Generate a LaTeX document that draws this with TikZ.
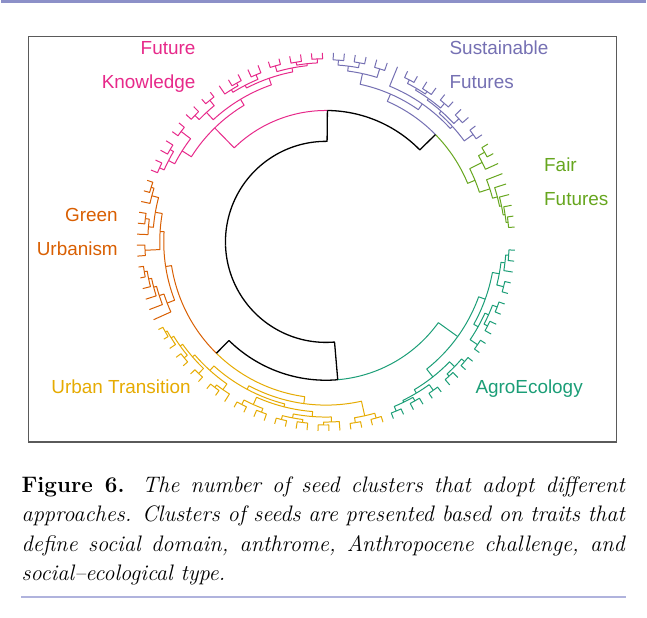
\documentclass[tikz,border=0pt]{standalone}
\usepackage{fontspec}
\newfontfamily\labelfont{Liberation Sans}
\usepackage{xcolor}

\definecolor{knowcol}{HTML}{E7298A}
\definecolor{sustcol}{HTML}{7570B3}
\definecolor{faircol}{HTML}{66A61E}
\definecolor{agrocol}{HTML}{1B9E77}
\definecolor{greencol}{HTML}{D95F02}
\definecolor{urbancol}{HTML}{E6AB02}
\definecolor{framecol}{HTML}{5A5A5A}
\definecolor{rulecol}{HTML}{8C90C8}
\definecolor{rulelight}{HTML}{B0B3DD}

\tikzset{
  br/.style={line width=1pt, line join=round},
  brknow/.style={br, draw=knowcol},
  brsust/.style={br, draw=sustcol},
  brfair/.style={br, draw=faircol},
  bragro/.style={br, draw=agrocol},
  brgreen/.style={br, draw=greencol},
  brurban/.style={br, draw=urbancol},
  brmix/.style={line width=1.3pt, line join=round, draw=black},
  clusterlabel/.style={font=\labelfont\fontsize{19}{34}\selectfont, inner sep=0pt},
}

% leaves #1..#2 : angle, tip radius and colour
\newcommand\lfs[3]{%
  \foreach \i in {#1,...,#2}{%
    \pgfmathparse{4.5+3.33*(\i-1)}%
    \expandafter\xdef\csname a@\i\endcsname{\pgfmathresult}%
    \expandafter\xdef\csname r@\i\endcsname{190}%
    \expandafter\xdef\csname c@\i\endcsname{#3}}}

% join: name, child 1, child 2, radius of the join
\newcommand\jn[4]{%
  \edef\ja{\csname a@#2\endcsname}\edef\jb{\csname a@#3\endcsname}%
  \edef\jra{\csname r@#2\endcsname}\edef\jrb{\csname r@#3\endcsname}%
  \edef\jca{\csname c@#2\endcsname}\edef\jcb{\csname c@#3\endcsname}%
  \pgfmathsetmacro\jm{(\ja+\jb)/2}%
  \edef\jdo{\noexpand\draw[\jca] (\ja:\jra) -- (\ja:#4)
    arc[start angle=\ja, end angle=\jm, radius=#4];}\jdo
  \edef\jdo{\noexpand\draw[\jcb] (\jm:#4)
    arc[start angle=\jm, end angle=\jb, radius=#4] -- (\jb:\jrb);}\jdo
  \expandafter\xdef\csname a@#1\endcsname{\jm}%
  \expandafter\xdef\csname r@#1\endcsname{#4}%
  \ifx\jca\jcb\expandafter\xdef\csname c@#1\endcsname{\jca}%
  \else\expandafter\xdef\csname c@#1\endcsname{brmix}\fi}

\begin{document}
\begin{tikzpicture}[x=1pt,y=1pt]
  \fill[white] (0,0) rectangle (647,620);
  \draw[rulecol, line width=3pt] (0,618.5) -- (647,618.5);
  \draw[framecol, line width=1.3pt] (27,583) rectangle (618,176);

  \begin{scope}[shift={(326,377)}]
    \lfs{1}{9}{brfair}
    \lfs{10}{26}{brsust}
    \lfs{27}{47}{brknow}
    \lfs{48}{61}{brgreen}
    \lfs{62}{86}{brurban}
    \lfs{87}{107}{bragro}
    % fair futures
    \jn{fa}{9}{8}{183}
    \jn{fb}{fa}{7}{176}
    \jn{fc}{1}{2}{184}
    \jn{fd}{fc}{3}{182}
    \jn{fe}{fd}{4}{180}
    \jn{ff}{fe}{5}{178}
    \jn{fg}{ff}{6}{173}
    \jn{F}{fg}{fb}{162}
    % sustainable futures
    \jn{sa}{10}{11}{183}
    \jn{sb}{12}{13}{182}
    \jn{sc}{14}{15}{183}
    \jn{sd}{16}{17}{182}
    \jn{se}{18}{19}{183}
    \jn{sf}{sd}{se}{179}
    \jn{sg}{sc}{sf}{177}
    \jn{sh}{sb}{sg}{175}
    \jn{si}{sa}{sh}{172}
    \jn{sj}{si}{20}{169}
    \jn{sk}{25}{26}{183}
    \jn{sl}{23}{24}{183}
    \jn{sm}{21}{22}{182}
    \jn{sn}{sl}{sk}{178}
    \jn{so}{sm}{sn}{173}
    \jn{S}{sj}{so}{162}
    \jn{PG}{F}{S}{154}
    % future knowledge
    \jn{pa}{46}{47}{183}
    \jn{pb}{44}{45}{182}
    \jn{pc}{42}{43}{183}
    \jn{pd}{pb}{pa}{178}
    \jn{pe}{pc}{pd}{171}
    \jn{pf}{40}{41}{183}
    \jn{pg}{38}{39}{184}
    \jn{ph}{pg}{pf}{177}
    \jn{pi}{27}{28}{184}
    \jn{pj}{29}{30}{183}
    \jn{pk}{31}{32}{184}
    \jn{pl}{pi}{pj}{180}
    \jn{pm}{pl}{pk}{178}
    \jn{pn}{33}{34}{182}
    \jn{po}{35}{36}{183}
    \jn{pp}{po}{37}{180}
    \jn{pq}{pn}{pp}{177}
    \jn{pr}{pm}{pq}{174}
    \jn{ps}{pr}{ph}{167}
    \jn{P}{ps}{pe}{160}
    \jn{A}{PG}{P}{132}
    % green urbanism
    \jn{oa}{48}{49}{184}
    \jn{ob}{oa}{50}{181}
    \jn{oc}{51}{52}{183}
    \jn{od}{oc}{53}{179}
    \jn{oe}{ob}{od}{174}
    \jn{of}{54}{55}{182}
    \jn{og}{oe}{of}{167}
    \jn{oh}{56}{57}{185}
    \jn{oi}{oh}{58}{182}
    \jn{oj}{oi}{59}{179}
    \jn{ok}{oj}{60}{176}
    \jn{ol}{ok}{61}{171}
    \jn{O}{og}{ol}{163}
    % urban transition
    \jn{ya}{62}{63}{185}
    \jn{yb}{ya}{64}{183}
    \jn{yc}{65}{66}{184}
    \jn{yd}{yb}{yc}{180}
    \jn{ye}{67}{68}{184}
    \jn{yf}{yd}{ye}{177}
    \jn{yg}{69}{70}{184}
    \jn{yh}{yg}{71}{181}
    \jn{yi}{yf}{yh}{174}
    \jn{yj}{72}{73}{184}
    \jn{yk}{74}{75}{183}
    \jn{yl}{yj}{yk}{179}
    \jn{ym}{76}{77}{184}
    \jn{yn}{78}{79}{183}
    \jn{yo}{ym}{yn}{180}
    \jn{yp}{80}{81}{184}
    \jn{yq}{yp}{82}{181}
    \jn{yr}{yo}{yq}{176}
    \jn{ys}{yl}{yr}{171}
    \jn{yt}{yi}{ys}{168}
    \jn{yu}{83}{84}{184}
    \jn{yv}{85}{86}{184}
    \jn{yw}{yu}{yv}{179}
    \jn{Y}{yt}{yw}{164}
    \jn{OY}{O}{Y}{157}
    % agroecology
    \jn{ta}{106}{107}{184}
    \jn{tb}{105}{ta}{181}
    \jn{tc}{103}{104}{184}
    \jn{td}{tc}{tb}{177}
    \jn{te}{101}{102}{184}
    \jn{tf}{99}{100}{183}
    \jn{tg}{tf}{te}{179}
    \jn{th}{97}{98}{184}
    \jn{ti}{th}{tg}{175}
    \jn{tj}{ti}{td}{170}
    \jn{tk}{87}{88}{184}
    \jn{tl}{89}{90}{183}
    \jn{tm}{tk}{tl}{179}
    \jn{tn}{91}{92}{184}
    \jn{tr}{tm}{tn}{177}
    \jn{to}{93}{94}{183}
    \jn{tp}{95}{96}{184}
    \jn{tq}{to}{tp}{180}
    \jn{ts}{tr}{tq}{173}
    \jn{T}{ts}{tj}{163}
    \jn{B}{OY}{T}{139}
    \jn{root}{A}{B}{101}
  \end{scope}

  \node[clusterlabel, text=knowcol, align=right, anchor=base east] (knowledge) at (195,531) {Future\\Knowledge};
  \node[clusterlabel, text=sustcol, align=left, anchor=base west] (sustainable) at (450,531) {Sustainable\\Futures};
  \node[clusterlabel, text=faircol, align=left, anchor=base west] (fair) at (545,414) {Fair\\Futures};
  \node[clusterlabel, text=greencol, align=right, anchor=base east] (green) at (117,363) {Green\\Urbanism};
  \node[clusterlabel, text=urbancol, anchor=base west] (urban) at (50,225) {Urban Transition};
  \node[clusterlabel, text=agrocol, anchor=base west] (agro) at (476,225) {AgroEcology};

  \node[anchor=base west, text width=606pt, align=justify, inner sep=0pt,
    font=\fontsize{22.5}{29.3}\selectfont] (caption) at (20,125)
    {\tolerance=10000 \textbf{Figure 6.} \itshape The number of seed clusters that adopt different\linebreak
     approaches. Clusters of seeds are presented based on traits that\linebreak
     define social domain, anthrome, Anthropocene challenge, and\linebreak
     social--ecological type.};
  \draw[rulelight, line width=2pt] (20,20) -- (627,20);
\end{tikzpicture}
\end{document}
